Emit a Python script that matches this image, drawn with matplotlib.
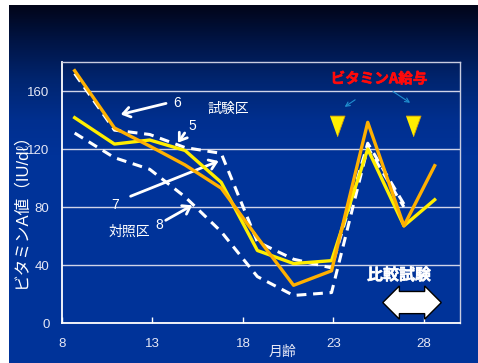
import numpy as np
import matplotlib.pyplot as plt
import matplotlib.patheffects as pe

plt.rcParams['font.family'] = ['Liberation Sans', 'Noto Sans CJK JP', 'DejaVu Sans']
JP = ['Noto Sans CJK JP', 'DejaVu Sans']

# age in months at each blood sampling
months = [8.7, 10.9, 12.85, 14.8, 16.8, 18.8, 20.8, 22.9, 24.9, 26.9, 28.6]
months_ctrl = months[:10]

# plasma vitamin A (IU/dl)
cow5 = [141.6, 123.4, 126.2, 119, 97, 50, 41, 43, 120, 67, 85]
cow6 = [174, 134.5, 122, 109, 93, 59, 26, 36, 138.4, 67, 108.5]
cow7 = [172, 133, 130, 121, 117, 56, 44, 38, 124, 82]
cow8 = [131, 114, 106, 87, 63, 32, 19, 21, 121, 80]

# vitamin A dosing
dose_months = [23.2, 27.4]
dose_y = 136

xticks = [8, 13, 18, 23, 28]
yticks = [0, 40, 80, 120, 160]

W, H = 478, 363
fig = plt.figure(figsize=(W / 100, H / 100), dpi=100, facecolor='white')

# slide background: dark navy at the top fading into royal blue
bg = fig.add_axes([9 / W, 0, 1 - 9 / W, 1 - 5 / H], zorder=-10)
bg.axis('off')
rows = np.arange(H - 5)
stops_y = [0, 35, 75, 115, 150, H]
stops_c = np.array([[2, 5, 25], [0, 20, 68], [0, 37, 112], [0, 47, 143],
                    [0, 51, 153], [0, 51, 153]]) / 255
grad = np.stack([np.interp(rows, stops_y, stops_c[:, k]) for k in range(3)], axis=1)
bg.imshow(np.repeat(grad[:, None, :], 2, axis=1), aspect='auto',
          extent=[0, 1, 0, 1], origin='upper')

ax = fig.add_axes([62 / W, 1 - 323 / H, 398 / W, 261 / H], facecolor='none')
ax.set_xlim(8, 30)
ax.set_ylim(0, 180)

ax.plot(months_ctrl, cow8, color='white', lw=2.2, ls=(0, (3.2, 2.2)), zorder=3)
ax.plot(months_ctrl, cow7, color='white', lw=2.2, ls=(0, (3.2, 2.2)), zorder=3)
ax.plot(months, cow5, color='#ffee00', lw=2.4, zorder=4)
ax.plot(months, cow6, color='#ffb000', lw=2.4, zorder=5)

tri = [(-0.36, 0.5), (0.36, 0.5), (0, -0.5)]
ax.plot(dose_months, [dose_y] * 2, ls='none', marker=tri, ms=15,
        mfc='#ffee00', mec='#d8a000', mew=0.6, zorder=6)

ax.grid(axis='y', color='#d0d4e8', lw=1)
ax.set_axisbelow(True)
for s in ['left', 'bottom']:
    ax.spines[s].set_color('white')
    ax.spines[s].set_linewidth(1.3)
for s in ['top', 'right']:
    ax.spines[s].set_color('#c8cce0')
    ax.spines[s].set_linewidth(1)

ax.set_xticks(xticks)
ax.set_yticks(yticks)
ax.tick_params(axis='x', direction='in', length=4, width=1, color='white',
               labelcolor='#e6e8f6', labelsize=9.5, pad=11)
ax.tick_params(axis='y', direction='in', length=0, labelcolor='#e6e8f6',
               labelsize=9.5, pad=9)

fig.text(20 / W, 1 - 206 / H, 'ビタミンA値（IU/dℓ）', rotation=90, ha='center',
         va='center', color='white', fontsize=12)
fig.text(282 / W, 1 - 352 / H, '月齢', ha='center', va='center',
         color='#e6e8f6', fontsize=10, family=JP)

# line labels with pointer arrows
arw = dict(arrowstyle='->,head_length=0.5,head_width=0.35', color='white', lw=2)
ax.annotate('', xy=(11.1, 143.4), xytext=(13.9, 151.9), arrowprops=arw)
ax.text(14.36, 151.5, '6', color='white', fontsize=10, ha='center', va='center')
ax.annotate('', xy=(14.32, 122.8), xytext=(14.87, 132.6), arrowprops=arw)
ax.text(15.2, 136, '5', color='white', fontsize=10, ha='center', va='center')
ax.annotate('', xy=(16.8, 112.4), xytext=(11.65, 86.7), arrowprops=arw)
ax.text(10.92, 81.4, '7', color='white', fontsize=10, ha='center', va='center')
ax.annotate('', xy=(15.33, 82.1), xytext=(13.6, 69.9), arrowprops=arw)
ax.text(13.4, 67.6, '8', color='white', fontsize=10, ha='center', va='center')

ax.text(16.07, 147.3, '試験区', color='white', fontsize=10, ha='left',
        va='center', family=JP)
ax.text(11.75, 63, '対照区', color='white', fontsize=10, ha='center',
        va='center', family=JP)

# thicken the bold headings a little
red_bold = [pe.withStroke(linewidth=0.45, foreground='#ff0a0a')]
white_bold = [pe.withStroke(linewidth=0.4, foreground='white')]

ax.text(25.53, 168.8, 'ビタミンA給与', color='#ff0a0a', fontsize=10.5,
        fontweight='bold', ha='center', va='center', family=JP,
        path_effects=red_bold)
thin = dict(arrowstyle='->,head_length=0.3,head_width=0.15', color='#2090d0', lw=0.8)
ax.annotate('', xy=(23.5, 148), xytext=(24.33, 155), arrowprops=thin)
ax.annotate('', xy=(27.37, 150.8), xytext=(26.17, 160.7), arrowprops=thin)

ax.text(26.63, 33.1, '比較試験', color='white', fontsize=11.5, fontweight='bold',
        ha='center', va='center', family=JP, path_effects=white_bold)
ax.text(27.34, 14.1, ' ' * 9, fontsize=9.8, ha='center', va='center',
        bbox=dict(boxstyle='darrow,pad=0.3', fc='white', ec='black', lw=1))

fig.savefig('out.png', dpi=100, facecolor=fig.get_facecolor())
